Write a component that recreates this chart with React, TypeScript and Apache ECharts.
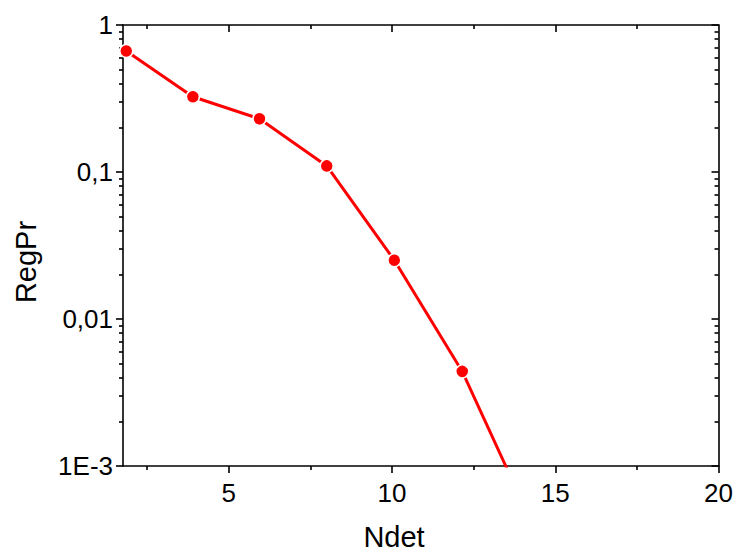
import React, { useEffect, useRef } from "react";
import * as echarts from "echarts";

// ---- data ----
const nDet = [1.86, 3.9, 5.94, 8.0, 10.07, 12.15, 14.2];
const regPr = [0.665, 0.325, 0.23, 0.11, 0.0251, 0.0044, 0.00045];

const xMajorTicks = [5, 10, 15, 20];
const xMajorTopTicks = [5, 10, 15];
const xMinorTicks = [2.5, 7.5, 12.5, 17.5];
const yTickValues = [0.001, 0.01, 0.1, 1];
const yTickLabels = ["1E-3", "0,01", "0,1", "1"];
const yDecadeExponents = [-3, -2, -1];
const yMinorMultipliers = [2, 3, 4, 5, 6, 7, 8, 9];

const X_MIN = 1.76;
const X_MAX = 20;

const FONT = "'Liberation Sans', Arial, Helvetica, sans-serif";

const yMinorLog: number[] = [];
yDecadeExponents.forEach((e) => {
  yMinorMultipliers.forEach((m) => {
    yMinorLog.push(e + Math.log10(m));
  });
});

const axisLineStyle = { color: "#000", width: 1.6 };
const tickStyle = { color: "#000", width: 1.6 };

export default function App() {
  const ref = useRef<HTMLDivElement>(null);

  useEffect(() => {
    if (!ref.current) return;
    const chart = echarts.init(ref.current, undefined, { renderer: "svg" });

    const hiddenLabel = { show: false };
    const noSplit = { show: false };

    const option: any = {
      animation: false,
      backgroundColor: "#fff",
      grid: { left: 123, right: 17, top: 25, bottom: 88, containLabel: false },
      xAxis: [
        {
          type: "value",
          position: "bottom",
          min: X_MIN,
          max: X_MAX,
          axisLine: { show: true, onZero: false, lineStyle: axisLineStyle },
          axisTick: { show: true, inside: false, length: 7, customValues: xMajorTicks, lineStyle: tickStyle },
          axisLabel: { show: true, customValues: xMajorTicks, margin: 14, color: "#000", fontSize: 26, fontFamily: FONT },
          splitLine: noSplit,
        },
        {
          type: "value",
          position: "bottom",
          min: X_MIN,
          max: X_MAX,
          axisLine: { show: false, onZero: false },
          axisTick: { show: true, inside: false, length: 4, customValues: xMinorTicks, lineStyle: tickStyle },
          axisLabel: hiddenLabel,
          splitLine: noSplit,
        },
        {
          type: "value",
          position: "top",
          min: X_MIN,
          max: X_MAX,
          axisLine: { show: true, onZero: false, lineStyle: axisLineStyle },
          axisTick: { show: true, inside: true, length: 7, customValues: xMajorTopTicks, lineStyle: tickStyle },
          axisLabel: hiddenLabel,
          splitLine: noSplit,
        },
        {
          type: "value",
          position: "top",
          min: X_MIN,
          max: X_MAX,
          axisLine: { show: false, onZero: false },
          axisTick: { show: true, inside: true, length: 4, customValues: xMinorTicks, lineStyle: tickStyle },
          axisLabel: hiddenLabel,
          splitLine: noSplit,
        },
      ],
      yAxis: [
        {
          type: "log",
          logBase: 10,
          position: "left",
          min: 0.001,
          max: 1,
          axisLine: { show: true, onZero: false, lineStyle: axisLineStyle },
          axisTick: { show: true, inside: false, length: 7, lineStyle: tickStyle },
          axisLabel: {
            show: true,
            margin: 10,
            color: "#000",
            fontSize: 26,
            fontFamily: FONT,
            formatter: (v: number) => {
              const i = yTickValues.findIndex((t) => Math.abs(Math.log10(v) - Math.log10(t)) < 1e-6);
              return i >= 0 ? yTickLabels[i] : "";
            },
          },
          splitLine: noSplit,
        },
        {
          type: "value",
          position: "left",
          min: -3,
          max: 0,
          axisLine: { show: false, onZero: false },
          axisTick: { show: true, inside: false, length: 4, customValues: yMinorLog, lineStyle: tickStyle },
          axisLabel: hiddenLabel,
          splitLine: noSplit,
        },
        {
          type: "log",
          logBase: 10,
          position: "right",
          min: 0.001,
          max: 1,
          axisLine: { show: true, onZero: false, lineStyle: axisLineStyle },
          axisTick: { show: true, inside: true, length: 7, lineStyle: tickStyle },
          axisLabel: hiddenLabel,
          splitLine: noSplit,
        },
        {
          type: "value",
          position: "right",
          min: -3,
          max: 0,
          axisLine: { show: false, onZero: false },
          axisTick: { show: true, inside: true, length: 4, customValues: yMinorLog, lineStyle: tickStyle },
          axisLabel: hiddenLabel,
          splitLine: noSplit,
        },
      ],
      graphic: [
        {
          type: "text",
          x: 394,
          y: 537,
          style: { text: "Ndet", fontSize: 29, fontFamily: FONT, fill: "#000", textAlign: "center", textVerticalAlign: "middle" },
        },
        {
          type: "text",
          x: 26,
          y: 262,
          rotation: Math.PI / 2,
          style: { text: "RegPr", fontSize: 29, fontFamily: FONT, fill: "#000", textAlign: "center", textVerticalAlign: "middle" },
        },
      ],
      series: [
        {
          type: "line",
          xAxisIndex: 0,
          yAxisIndex: 0,
          data: nDet.map((x, i) => [x, regPr[i]]),
          clip: true,
          symbol: "circle",
          symbolSize: 13,
          lineStyle: { color: "#ff0000", width: 3 },
          itemStyle: { color: "#ff0000", borderColor: "#fff", borderWidth: 1.5 },
          z: 3,
        },
      ],
    };

    chart.setOption(option);
    return () => chart.dispose();
  }, []);

  return <div ref={ref} style={{ width: 736, height: 554, position: "absolute", left: 0, top: 0 }} />;
}
